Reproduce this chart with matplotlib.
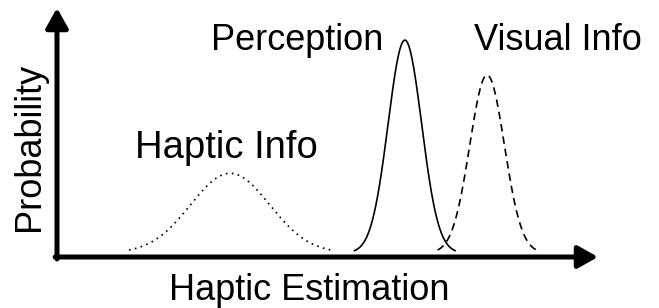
import numpy as np
import matplotlib
matplotlib.use("Agg")
import matplotlib.pyplot as plt

plt.rcParams['font.family'] = ['Liberation Sans', 'DejaVu Sans']

# curve parameters (x in estimation units 0..10, y in probability units 0..1)
names = ["Haptic Info", "Perception", "Visual Info"]
means = [3.2, 6.43, 7.95]
sigmas = [0.73, 0.31, 0.32]
peaks = [0.32, 0.855, 0.715]
spans = [2.56, 3.0, 2.86]  # how many sigmas each curve is drawn
styles = [(0, (1, 2.6)), "-", (0, (4.5, 3))]
base = 0.016

W, H = 659, 308
fig = plt.figure(figsize=(W / 100, H / 100), dpi=100)
ax = fig.add_axes([57 / W, (H - 257) / H, (598 - 57) / W, (257 - 8) / H])
ax.set_xlim(0, 10)
ax.set_ylim(0, 1)
ax.axis("off")

for m, s, p, k, ls in zip(means, sigmas, peaks, spans, styles):
    x = np.linspace(m - k * s, m + k * s, 300)
    y = base + p * np.exp(-0.5 * ((x - m) / s) ** 2)
    ax.plot(x, y, color="black", lw=1.2, linestyle=ls)

arrow = dict(arrowstyle="-|>,head_length=0.8,head_width=0.45", lw=3.6,
             color="black", shrinkA=0, shrinkB=0, mutation_scale=15)
ax.annotate("", xy=(1, 0), xytext=(-0.0035, 0), xycoords="axes fraction",
            arrowprops=arrow)
ax.annotate("", xy=(0, 1), xytext=(0, -0.008), xycoords="axes fraction",
            arrowprops=arrow)

fs = 26
fig.text(297 / W, (H - 50) / H, "Perception", fontsize=fs, ha="center", va="baseline")
fig.text(558 / W, (H - 50) / H, "Visual Info", fontsize=fs, ha="center", va="baseline")
fig.text(226 / W, (H - 158) / H, "Haptic Info", fontsize=27.5, ha="center", va="baseline")
fig.text(309 / W, (H - 300) / H, "Haptic Estimation", fontsize=fs, ha="center", va="baseline")
fig.text(29 / W, (H - 147) / H, "Probability", fontsize=fs, rotation=90,
         ha="center", va="center")

fig.savefig("out.png", dpi=100)
